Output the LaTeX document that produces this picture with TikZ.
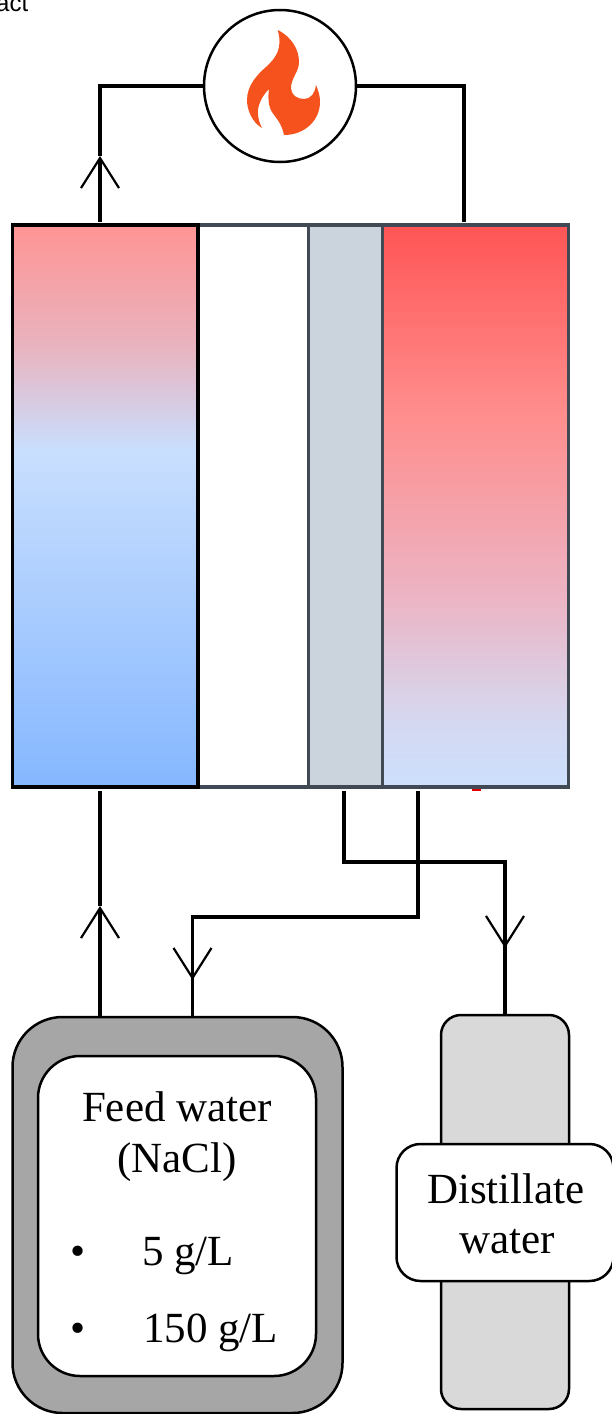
\documentclass[tikz,border=0pt]{standalone}
\usepackage{fontspec}
\setmainfont{Liberation Serif}
\newfontfamily\cutfont{Liberation Sans}
\usepackage{tikz}
\usetikzlibrary{positioning,arrows.meta}
\definecolor{cellgray}{HTML}{414955}
\definecolor{gapgray}{HTML}{CBD3DC}
\definecolor{flame}{HTML}{F5521D}
\definecolor{tankgray}{HTML}{A6A6A6}
\definecolor{bottlegray}{HTML}{D9D9D9}
\definecolor{coldlow}{HTML}{85B7FF}
\definecolor{coldmid}{HTML}{C9DFFE}
\definecolor{coldrose}{HTML}{E8B4C0}
\definecolor{coldtop}{HTML}{FF9494}
\definecolor{hotlow}{HTML}{CCE0FD}
\definecolor{hotlilac}{HTML}{D5D8F0}
\definecolor{hotrose}{HTML}{ECB4C4}
\definecolor{hotmid}{HTML}{FF8E8E}
\definecolor{hottop}{HTML}{FF5555}
\pgfdeclareverticalshading{coldgrad}{100bp}{
  color(0bp)=(coldlow); color(25bp)=(coldlow); color(55bp)=(coldmid);
  color(64bp)=(coldrose); color(75bp)=(coldtop); color(100bp)=(coldtop)}
\pgfdeclareverticalshading{hotgrad}{100bp}{
  color(0bp)=(hotlow); color(25bp)=(hotlow); color(31bp)=(hotlilac); color(42bp)=(hotrose);
  color(58bp)=(hotmid); color(75bp)=(hottop); color(100bp)=(hottop)}
\tikzset{cellbox/.style={rectangle, draw=cellgray, line width=3.5pt, inner sep=0pt, outer sep=0pt, minimum height=562pt},
  tankbox/.style={rectangle, draw=black, line width=2.5pt, inner sep=0pt, outer sep=0pt},
  flowline/.style={line width=3.5pt, black},
  barbline/.style={line width=3.5pt, black, -{Straight Barb[length=30pt, width=38pt, line width=2.2pt]}},
  tanktext/.style={font=\fontsize{43}{43}\selectfont, inner sep=0pt, anchor=base},
  tanklist/.style={tanktext, anchor=base west},}

\begin{document}
\begin{tikzpicture}[x=1pt, y=-1pt]
\useasboundingbox (0,0) rectangle (612,1414);
\node [font=\fontsize{24}{24}\cutfont, inner sep=0pt, anchor=base west] (cutlabel) at (-4,11) {act};

\node [cellbox, fill=white, minimum width=111pt] (membrane) at (253.5,506) {};
\node [cellbox, fill=gapgray, minimum width=74pt] (gapcell) at (345.5,506) {};
\node [cellbox, shade, shading=hotgrad, minimum width=186pt] (hotcell) at (475.5,506) {};
\node [cellbox, draw=black, shade, shading=coldgrad, minimum width=185.5pt] (coldcell) at (105.25,506) {};
\fill[red!90!black] (472,789) rectangle (481,791);

\node [circle, draw=black, line width=2.5pt, fill=white, minimum size=152pt, inner sep=0pt, outer sep=0pt] (heater) at (280,86) {};
\fill[flame] (277.7,30) .. controls (292,37) and (299,50) .. (299,62)
  .. controls (299,72) and (291,78) .. (291,88)
  .. controls (291,95) and (297,99) .. (304,99)
  .. controls (311,99) and (315,93) .. (316,85)
  .. controls (319,92) and (320,97) .. (320,102)
  .. controls (320,120) and (305,135) .. (284,135)
  .. controls (282,124) and (276,118) .. (272,112)
  .. controls (268,106) and (268,96) .. (269,89)
  .. controls (262,96) and (257,106) .. (258,114)
  .. controls (258,119) and (260,124) .. (262,128)
  .. controls (252,122) and (247,110) .. (247,100)
  .. controls (247,85) and (258,74) .. (266,67)
  .. controls (276,58) and (283,48) .. (277.7,30) -- cycle;

\node [tankbox, fill=tankgray, minimum width=330pt, minimum height=396pt, rounded corners=50pt] (feedtank) at (177.5,1215) {};
\node [tankbox, fill=white, minimum width=278pt, minimum height=320pt, rounded corners=42pt] (feedbox) at (177,1216) {};
\node [tanktext] (feedname) at (177,1121) {Feed water};
\node [tanktext] (feedsalt) at (177,1172) {(NaCl)};
\node [tanktext] (dotlow) at (78,1265) {•};
\node [tanklist] (saltlow) at (142,1265) {5 g/L};
\node [tanktext] (dothigh) at (78,1342) {•};
\node [tanklist] (salthigh) at (143,1342) {150 g/L};

\node [tankbox, fill=bottlegray, minimum width=128pt, minimum height=394pt, rounded corners=20pt] (bottle) at (505,1212) {};
\node [tankbox, fill=white, minimum width=217pt, minimum height=137pt, rounded corners=24pt] (bottlebox) at (505,1212.5) {};
\node [tanktext] (distname) at (506,1203) {Distillate};
\node [tanktext] (distwater) at (507,1253) {water};

\coordinate (coldout) at (100,222);
\coordinate (coldmark) at (100,156);
\coordinate (coldelbow) at (100,86);
\coordinate (hotout) at (464,222);
\coordinate (hotelbow) at (464,86);
\coordinate (coldback) at (100,791);
\coordinate (coldin) at (100,906);
\coordinate (feedin) at (100,1017);
\coordinate (gapout) at (344,791);
\coordinate (gapelbow) at (344,862);
\coordinate (distelbow) at (505,862);
\coordinate (distmark) at (505,948);
\coordinate (distin) at (505,1015);
\coordinate (hotback) at (418,791);
\coordinate (hotturn) at (418,917);
\coordinate (backelbow) at (192.5,917);
\coordinate (backmark) at (192.5,980);
\coordinate (backin) at (192.5,1017);

\draw[barbline] (coldout) -- (coldmark);
\draw[flowline] (coldmark) -- (coldelbow) -- (heater);
\draw[flowline] (hotout) -- (hotelbow) -- (heater);
\draw[barbline] (feedin) -- (coldin);
\draw[flowline] (coldin) -- (coldback);
\draw[flowline] (gapout) -- (gapelbow) -- (distelbow) -- (distmark);
\draw[barbline] (distelbow) -- (distmark);
\draw[flowline] (distmark) -- (distin);
\draw[flowline] (hotback) -- (hotturn) -- (backelbow) -- (backmark);
\draw[barbline] (backelbow) -- (backmark);
\draw[flowline] (backmark) -- (backin);
\end{tikzpicture}
\end{document}
